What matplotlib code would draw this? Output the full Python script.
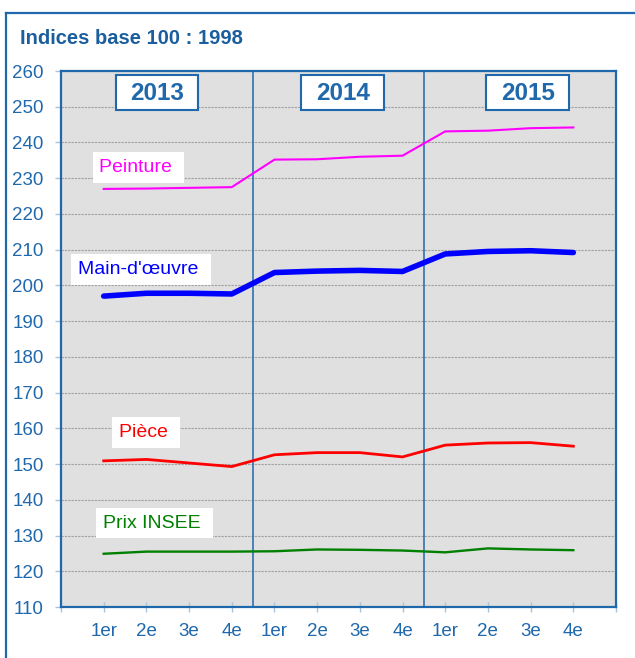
import numpy as np
import matplotlib.pyplot as plt
from matplotlib.lines import Line2D
from matplotlib.patches import Rectangle

plt.rcParams['font.family'] = ['Liberation Sans', 'DejaVu Sans']

# trimestres 2013-2015
quarters = ['1er', '2e', '3e', '4e'] * 3
years = ['2013', '2014', '2015']

peinture = [227.0, 227.1, 227.3, 227.5, 235.2, 235.3, 236.0, 236.3, 243.1, 243.3, 244.0, 244.2]
main_oeuvre = [197.0, 197.8, 197.8, 197.6, 203.6, 204.0, 204.2, 203.9, 208.8, 209.5, 209.7, 209.2]
piece = [150.9, 151.3, 150.3, 149.3, 152.6, 153.2, 153.2, 152.0, 155.3, 155.9, 156.0, 155.0]
prix_insee = [124.9, 125.5, 125.5, 125.5, 125.6, 126.1, 126.0, 125.8, 125.3, 126.4, 126.1, 125.9]

BLUE = '#1F68AC'
TICK = '#A9C3DC'

fig = plt.figure(figsize=(6.35, 6.58), dpi=100)
ax = fig.add_axes([61 / 635, 51 / 658, 555 / 635, 536 / 658])
ax.set_facecolor('#E0E0E0')

x = np.arange(1, len(quarters) + 1)

ax.plot(x, peinture, color='#FF00FF', lw=1.5, zorder=3)
ax.plot(x, main_oeuvre, color='#0000FF', lw=4, solid_capstyle='round', zorder=3)
ax.plot(x, piece, color='#FF0000', lw=2, zorder=3)
ax.plot(x, prix_insee, color='#008000', lw=1.7, zorder=3)

# separateurs d'annees
for sep in [4.5, 8.5]:
    ax.axvline(sep, color=BLUE, lw=1.1, zorder=2)

ax.set_xlim(0, 13)
ax.set_ylim(110, 260)
ax.set_yticks(np.arange(110, 261, 10))
ax.set_xticks(np.arange(0, 14))
ax.set_xticklabels([''] + quarters + [''])
ax.yaxis.grid(True, color='#A0A0A0', linestyle=(0, (2, 1)), lw=0.8, zorder=1)
ax.set_axisbelow(True)

ax.tick_params(axis='y', colors=TICK, labelcolor=BLUE, labelsize=13.5, length=4.5, width=1, pad=8)
ax.tick_params(axis='x', colors=TICK, labelcolor=BLUE, labelsize=13.5, direction='inout', length=7, width=1, pad=8)
for s in ax.spines.values():
    s.set_color(BLUE)
    s.set_linewidth(1.6)

# annees en haut, cadres de taille fixe
box_w, box_h = 1.94, 9.8
for xpos, yr in zip([2.25, 6.6, 10.93], years):
    ax.add_patch(Rectangle((xpos - box_w / 2, 254 - box_h / 2), box_w, box_h,
                           fc='white', ec=BLUE, lw=1.5, zorder=4))
    ax.text(xpos, 253.6, yr, ha='center', va='center', fontsize=17.5, fontweight='bold',
            color=BLUE, zorder=5)

# etiquettes des series
labels = [
    (0.9, 233.0, 'Peinture ', '#FF00FF'),
    (0.4, 204.5, "Main-d'œuvre ", '#0000FF'),
    (1.36, 158.9, 'Pièce ', '#FF0000'),
    (0.98, 133.5, 'Prix INSEE ', '#008000'),
]
for lx, ly, txt, col in labels:
    ax.text(lx, ly, txt, ha='left', va='center', fontsize=14, color=col,
            bbox=dict(boxstyle='square,pad=0.35', fc='white', ec='none'), zorder=4)

fig.text(20 / 635, 1 - 38 / 658, 'Indices base 100 : 1998', ha='left', va='center',
         fontsize=14.5, fontweight='bold', color='#1A5E9E')

# cadre exterieur
fig.add_artist(Line2D([6 / 635, 6 / 635], [0, 1 - 13 / 658], color=BLUE, lw=1.6, transform=fig.transFigure))
fig.add_artist(Line2D([6 / 635, 1], [1 - 13 / 658, 1 - 13 / 658], color=BLUE, lw=1.6, transform=fig.transFigure))

fig.savefig('out.png', dpi=100)
